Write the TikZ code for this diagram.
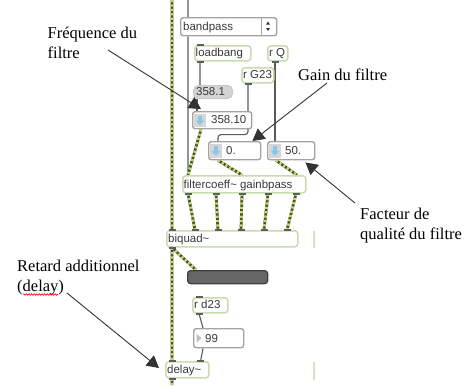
\documentclass[tikz,border=0pt]{standalone}
\usepackage{fontspec}
\setmainfont{Liberation Serif}
\newfontfamily\patchfont{Liberation Sans}
\usetikzlibrary{arrows.meta,calc,decorations.pathmorphing}

\definecolor{objgreen}{HTML}{C9DBB0}
\definecolor{numgray}{HTML}{A3A3A3}
\definecolor{wire}{HTML}{5A5A5A}
\definecolor{sigdark}{HTML}{474F2A}
\definecolor{siglight}{HTML}{BFDC72}
\definecolor{iconblue}{HTML}{86C8E8}
\definecolor{icongray}{HTML}{D6D6D6}
\definecolor{ptext}{HTML}{383838}
\definecolor{tabcol}{HTML}{5E5E5E}

\pgfdeclarelayer{wires}
\pgfsetlayers{wires,main}

% short inlet/outlet mark centred xs bp right of an anchor
\newcommand\tabmark[2]{\draw[tabc] ([xshift=#2bp-3.5bp]#1) -- ([xshift=#2bp+3.5bp]#1);}
% blue down-arrow icon of a number box
\newcommand\numicon[1]{%
  \fill[icongray] ($(#1.north west)+(2,2.5)$) rectangle ($(#1.south west)+(13.5,-2.5)$);
  \fill[iconblue] ($(#1.west)+(5.8,-4.5)$) rectangle ($(#1.west)+(9.8,0.8)$);
  \fill[iconblue] ($(#1.west)+(3.8,0.5)$) -- ($(#1.west)+(11.8,0.5)$) -- ($(#1.west)+(7.8,5)$) -- cycle;}

\begin{document}
\begin{tikzpicture}[x=1bp,y=-1bp,
  obj/.style={draw=objgreen, fill=white, line width=1.6bp, rounded corners=3bp,
    inner sep=0pt, anchor=north west},
  numbox/.style={draw=numgray, fill=white, line width=1.4bp, rounded corners=2.5bp,
    inner sep=0pt, anchor=north west},
  msgbox/.style={draw=black!22, fill=black!17, line width=1bp, rounded corners=5bp,
    inner sep=0pt, anchor=north west},
  barbox/.style={draw=black!75, fill=black!60, line width=1.3bp, rounded corners=3bp,
    inner sep=0pt, anchor=north west},
  ptxt/.style={font=\patchfont\fontsize{11.5bp}{13bp}\selectfont, text=ptext,
    inner sep=0pt, anchor=base west},
  note/.style={font=\fontsize{16.5bp}{20bp}\selectfont, inner sep=0pt, anchor=base west},
  wireline/.style={draw=wire, line width=1.1bp},
  tabc/.style={draw=tabcol, line width=2bp},
  sig/.style={draw=siglight, line width=2.8bp, dash pattern=on 2.2bp off 2.2bp,
    preaction={draw=sigdark, line width=2.8bp, solid}},
  notearrow/.style={draw=black!80, line width=0.9bp,
    -{Triangle[width=13bp,length=12bp]}},
  faint/.style={draw=objgreen!80, line width=1.5bp}]

\useasboundingbox (0,0) rectangle (466,385);

% ---------- boxes ----------
\node[numbox, minimum width=96bp, minimum height=18bp] (bp) at (180,17) {};
\node[obj, minimum width=56bp, minimum height=15bp] (lb) at (194,45) {};
\node[obj, minimum width=20bp, minimum height=15bp] (rq) at (267,45) {};
\node[obj, minimum width=32bp, minimum height=15bp] (rg) at (241,67) {};
\node[msgbox, minimum width=39bp, minimum height=13bp] (msg) at (193,85) {};
\node[numbox, minimum width=59bp, minimum height=17bp] (nfreq) at (192,111) {};
\node[numbox, minimum width=52bp, minimum height=18bp] (nzero) at (208,141) {};
\node[numbox, minimum width=47bp, minimum height=18bp] (nq) at (267,141) {};
\node[obj, minimum width=123bp, minimum height=17bp] (fc) at (182,175) {};
\node[obj, minimum width=131bp, minimum height=16bp] (bq) at (166,230) {};
\node[barbox, minimum width=80bp, minimum height=13bp] (bar) at (187,270) {};
\node[obj, minimum width=35bp, minimum height=15bp] (rd) at (192,297) {};
\node[numbox, minimum width=50bp, minimum height=19bp] (n99) at (193,328) {};
\node[obj, minimum width=43bp, minimum height=16bp] (dl) at (165,361) {};

\coordinate (sigtop) at (172,0);
\coordinate (bptop) at (188,0);
\coordinate (sigbot) at (172,385);

% ---------- patch cords (behind the boxes) ----------
\begin{pgfonlayer}{wires}
  % control cords
  \draw[wireline] (bptop) -- ([xshift=8bp]bp.north west);
  \draw[wireline] ([xshift=8bp]bp.south west) -- ([xshift=6bp]fc.north west);
  \draw[wireline] ([xshift=6bp]lb.south west) -- ([xshift=7bp]msg.north west);
  \draw[wireline] ([xshift=4bp]msg.south west) -- ([xshift=5bp]nfreq.north west);
  \draw[wireline, rounded corners=3bp] ([xshift=7bp]rg.south west) -- ++(0,51)
     -| ([xshift=10bp]nzero.north west);
  \draw[wireline] ([xshift=8bp]rq.south west) -- ([xshift=8bp]nq.north west);
  \draw[wireline] ([xshift=7bp]rd.south west) -- ([xshift=10bp]n99.north west);
  \draw[wireline] ([xshift=10bp]n99.south west) -- ([xshift=-9bp]dl.north east);
  % signal cords
  \draw[sig] (sigtop) -- ([xshift=6bp]bq.north west);
  \draw[sig] ([xshift=9bp]nfreq.south west) -- ([xshift=6bp]fc.north west);
  \draw[sig] ([xshift=10bp]nzero.south west) -- ([xshift=60bp]fc.north west);
  \draw[sig] ([xshift=9bp]nq.south west) -- ([xshift=115bp]fc.north west);
  \draw[sig] ([xshift=6bp]fc.south west) -- ([xshift=29bp]bq.north west);
  \draw[sig] ([xshift=34bp]fc.south west) -- ([xshift=52bp]bq.north west);
  \draw[sig] ([xshift=60bp]fc.south west) -- ([xshift=75bp]bq.north west);
  \draw[sig] ([xshift=86bp]fc.south west) -- ([xshift=98bp]bq.north west);
  \draw[sig] ([xshift=114bp]fc.south west) -- ([xshift=121bp]bq.north west);
  \draw[sig] ([xshift=6bp]bq.south west) -- ([xshift=7bp]dl.north west);
  \draw[sig] ([xshift=6bp]bq.south west) -- ([xshift=9bp]bar.north west);
  \draw[sig] ([xshift=7bp]dl.south west) -- (sigbot);
\end{pgfonlayer}

% clipped objects at the right edge of the view
\draw[faint] (314,231) -- (314,248);
\draw[faint] (314,362) -- (314,380);

% ---------- inlets / outlets ----------
\tabmark{lb.north west}{6}
\tabmark{lb.south west}{6}
\tabmark{rq.south west}{8}
\tabmark{rg.south west}{7}
\tabmark{rd.north west}{7}
\tabmark{rd.south west}{7}
\foreach \o in {6,34,60,86,114} {\tabmark{fc.south west}{\o}}
\foreach \i in {6,29,52,75,98,121} {\tabmark{bq.north west}{\i}}
\tabmark{bq.south west}{6}
\tabmark{dl.north west}{7}
\tabmark{dl.north east}{-9}
\tabmark{dl.south west}{7}

% ---------- icons ----------
\numicon{nfreq}
\numicon{nzero}
\numicon{nq}
\fill[black!25] ($(n99.west)+(3.5,-4.5)$) -- ($(n99.west)+(3.5,4.5)$) -- ($(n99.west)+(8.5,0)$) -- cycle;
\draw[numgray, line width=1bp] ($(bp.north east)+(-16,0)$) -- ($(bp.south east)+(-16,0)$);
\fill[ptext] (266,24.5) -- (270,24.5) -- (268,21.5) -- cycle;
\fill[ptext] (266,28) -- (270,28) -- (268,31) -- cycle;

% ---------- box texts ----------
\node[ptxt] (tbp) at (183,30) {bandpass};
\node[ptxt] (tlb) at (195.5,56.5) {loadbang};
\node[ptxt] (trq) at (269,56.5) {r Q};
\node[ptxt] (trg) at (243,78.5) {r G23};
\node[ptxt] (tmsg) at (196,95.5) {358.1};
\node[ptxt] (tfreq) at (211,123.5) {358.10};
\node[ptxt] (tzero) at (226,154.5) {0.};
\node[ptxt] (tq) at (285,154.5) {50.};
\node[ptxt] (tfc) at (183.5,188) {filtercoeff\textasciitilde\ gainbpass};
\node[ptxt] (tbq) at (168,242.5) {biquad\textasciitilde};
\node[ptxt] (trd) at (194,308.5) {r d23};
\node[ptxt] (t99) at (205,342) {99};
\node[ptxt] (tdl) at (167,373.5) {delay\textasciitilde};

% ---------- annotations ----------
\node[note] (freqa) at (47.5,38) {Fréquence du};
\node[note] (freqb) at (47.5,58) {filtre};
\node[note] (gain) at (298,80) {Gain du filtre};
\node[note] (qa) at (360,219) {Facteur de};
\node[note] (qb) at (360,239) {qualité du filtre};
\node[note] (dela) at (17,271) {Retard additionnel};
\node[note] (delb) at (17,291) {(delay)};
\draw[red, line width=0.6bp, decorate,
  decoration={snake, amplitude=0.8bp, segment length=2.6bp}]
  ($(delb.base west)+(6,3.5)$) -- ($(delb.base east)+(-6,3.5)$);

\coordinate (freqs) at (108,50);
\coordinate (gains) at (327,83);
\coordinate (qs) at (355,203);
\coordinate (dels) at (67,293);
\draw[notearrow] (freqs) -- ([xshift=9bp,yshift=2bp]nfreq.north west);
\draw[notearrow] (gains) -- ([xshift=-9bp]nzero.north east);
\draw[notearrow] (qs) -- ([xshift=-10bp,yshift=-2bp]nq.south east);
\draw[notearrow] (dels) -- ([xshift=-6bp,yshift=-7bp]dl.north west);
\end{tikzpicture}
\end{document}
